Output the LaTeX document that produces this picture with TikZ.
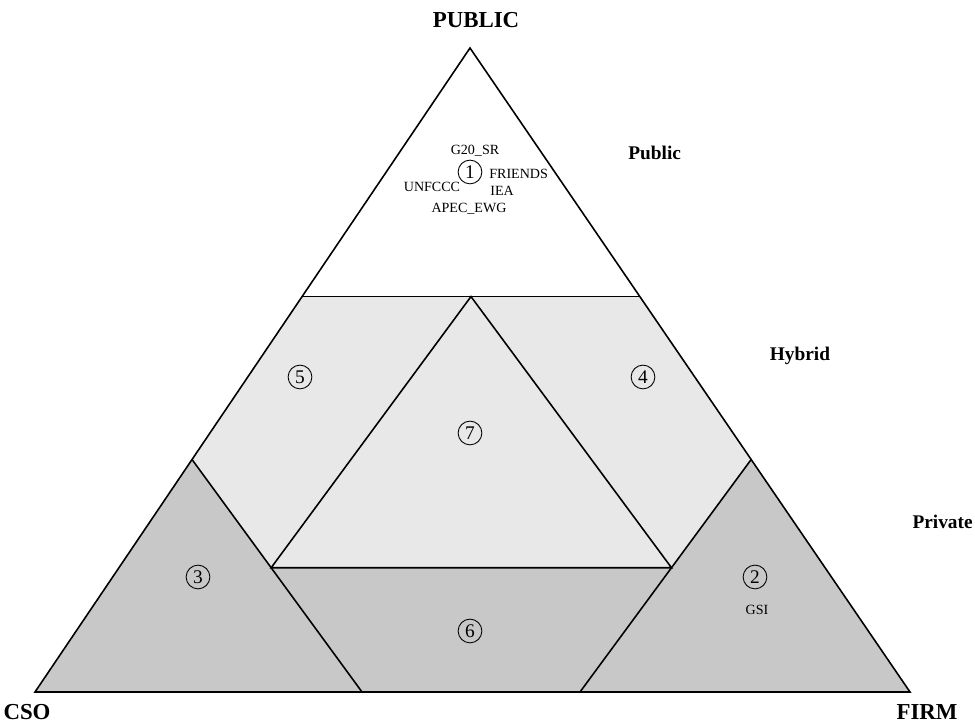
\documentclass[tikz,border=0pt]{standalone}
\usepackage{fontspec}
\setmainfont{Liberation Serif}
\usetikzlibrary{calc}
\definecolor{hybridgray}{HTML}{E8E8E8}
\definecolor{privategray}{HTML}{C8C8C8}
\tikzset{
  edge/.style={line width=0.9pt, line join=miter},
  num/.style={circle, draw, line width=0.5pt, inner sep=0pt, minimum size=13.5pt, font=\fontsize{11}{11}\selectfont},
  actor/.style={inner sep=0pt, font=\fontsize{8}{8}\selectfont},
  corner/.style={inner sep=0pt, font=\fontsize{13}{13}\selectfont\bfseries},
  level/.style={inner sep=0pt, font=\fontsize{11}{11}\selectfont\bfseries}
}
\begin{document}
\begin{tikzpicture}
\useasboundingbox (0,0) rectangle (19.5,14.52);
% corners of the big triangle
\coordinate (A) at (9.4,13.56);
\coordinate (L) at (0.7,0.68);
\coordinate (R) at (18.2,0.68);
% band borders
\coordinate (Pl) at ($(A)!0.386!(L)$);
\coordinate (Pr) at ($(A)!0.386!(R)$);
\coordinate (M) at ($(Pl)!0.5!(Pr)$);
\coordinate (Ql) at ($(A)!0.639!(L)$);
\coordinate (Qr) at ($(A)!0.639!(R)$);
\coordinate (Bl) at (7.24,0.68);
\coordinate (Br) at (11.6,0.68);
\coordinate (Cl) at ($(Ql)!0.4655!(Bl)$);
\coordinate (Cr) at ($(Qr)!0.4655!(Br)$);
% fills
\fill[privategray] (L) -- (Ql) -- (Cl) -- (Cr) -- (Qr) -- (R) -- cycle;
\fill[hybridgray] (Pl) -- (Pr) -- (Qr) -- (Cr) -- (Cl) -- (Ql) -- cycle;
% lines
\draw[edge] (A) -- (L) -- (R) -- cycle;
\draw[edge] (Pl) -- (Pr);
\draw[edge] (M) -- (Cl) -- (Cr) -- cycle;
\draw[edge] (Ql) -- (Bl);
\draw[edge] (Qr) -- (Br);
% labels of the corners and levels
\node[corner] (public) at (9.52,14.12) {PUBLIC};
\node[corner] (cso) at (0.54,0.28) {CSO};
\node[corner] (firm) at (18.54,0.28) {FIRM};
\node[level, anchor=west] (lpublic) at (12.56,11.46) {Public};
\node[level] (lhybrid) at (16.0,7.4) {Hybrid};
\node[level, anchor=east] (lprivate) at (19.46,4.08) {Private};
% numbered areas
\node[num] (n1) at (9.4,11.08) {1};
\node[num] (n2) at (15.1,2.98) {2};
\node[num] (n3) at (3.96,2.98) {3};
\node[num] (n4) at (12.86,6.98) {4};
\node[num] (n5) at (6.0,6.98) {5};
\node[num] (n6) at (9.4,1.9) {6};
\node[num] (n7) at (9.4,5.86) {7};
% actors
\node[actor] (g20) at (9.5,11.5) {G20\_SR};
\node[actor, anchor=west] (friends) at (9.78,11.04) {FRIENDS};
\node[actor] (unfccc) at (8.64,10.78) {UNFCCC};
\node[actor, anchor=west] (iea) at (9.8,10.7) {IEA};
\node[actor] (apec) at (9.38,10.34) {APEC\_EWG};
\node[actor] (gsi) at (15.14,2.32) {GSI};
\end{tikzpicture}
\end{document}
